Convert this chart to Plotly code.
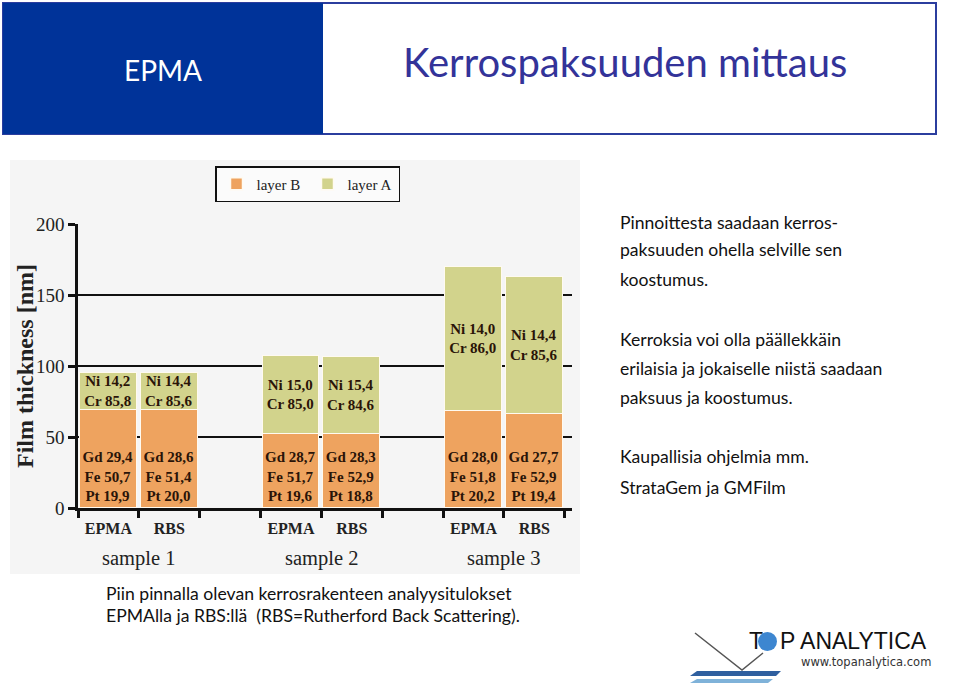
import plotly.graph_objects as go

# ---------------- data ----------------
samples = ["sample 1", "sample 2", "sample 3"]
methods = ["EPMA", "RBS"]
layer_b = [69, 69, 52, 52, 68, 66]      # nm
layer_a = [26, 26, 55, 54, 102, 97]     # nm
b_gd = ["29,4", "28,6", "28,7", "28,3", "28,0", "27,7"]
b_fe = ["50,7", "51,4", "51,7", "52,9", "51,8", "52,9"]
b_pt = ["19,9", "20,0", "19,6", "18,8", "20,2", "19,4"]
a_ni = ["14,2", "14,4", "15,0", "15,4", "14,0", "14,4"]
a_cr = ["85,8", "85,6", "85,0", "84,6", "86,0", "85,6"]
y_ticks = [0, 50, 100, 150, 200]

side_text = [
    ["Pinnoittesta saadaan kerros-", "paksuuden ohella selville sen", "koostumus."],
    ["Kerroksia voi olla päällekkäin", "erilaisia ja jokaiselle niistä saadaan", "paksuus ja koostumus."],
    ["Kaupallisia ohjelmia mm.", "StrataGem ja GMFilm"],
]
caption = ["Piin pinnalla olevan kerrosrakenteen analyysitulokset",
           "EPMAlla ja RBS:llä  (RBS=Rutherford Back Scattering)."]

# ---------------- helpers ----------------
W, H = 960, 686
def px(x):
    return x / W
def py(y):
    return 1 - y / H

# bar positions: group*3 + method index
xpos = [g * 3 + m for g in range(len(samples)) for m in range(len(methods))]
xlabels = [methods[m] for g in range(len(samples)) for m in range(len(methods))]

SERIF = "Liberation Serif, Times New Roman, serif"
SANS = "Lato, Open Sans, sans-serif"
ORANGE = "#eea35f"
GREEN = "#d2d38c"
TXT = "#2a1408"

fig = go.Figure()
fig.add_trace(go.Bar(
    name="layer B", x=xpos, y=layer_b, width=0.93,
    marker=dict(color=ORANGE, line=dict(color="#fffaf0", width=1.5)),
    text=[f"Gd {g}<br>Fe {f}<br>Pt {p}" for g, f, p in zip(b_gd, b_fe, b_pt)],
    textposition="inside", insidetextanchor="start", constraintext="none",
    textangle=0,
    textfont=dict(family=SERIF, size=15, color=TXT, weight="bold"),
    hoverinfo="skip",
))
fig.add_trace(go.Bar(
    name="layer A", x=xpos, y=layer_a, width=0.93,
    marker=dict(color=GREEN, line=dict(color="#fffaf0", width=1.5)),
    text=[f"Ni {n}<br>Cr {c}" for n, c in zip(a_ni, a_cr)],
    textposition="inside", insidetextanchor="middle", constraintext="none",
    textangle=0,
    textfont=dict(family=SERIF, size=15, color=TXT, weight="bold"),
    hoverinfo="skip",
))

shapes = []
annotations = []

# header
shapes.append(dict(type="rect", xref="paper", yref="paper", x0=px(3), x1=px(936), y0=py(134), y1=py(3),
                   line=dict(color="#2b3d9e", width=2), fillcolor="white", layer="below"))
shapes.append(dict(type="rect", xref="paper", yref="paper", x0=px(3), x1=px(323), y0=py(134), y1=py(3),
                   line=dict(width=0), fillcolor="#003399", layer="below"))
annotations.append(dict(text="EPMA", xref="paper", yref="paper", x=px(163), y=py(70), showarrow=False,
                        font=dict(family=SANS, size=28, color="white"), xanchor="center", yanchor="middle"))
annotations.append(dict(text="Kerrospaksuuden mittaus", xref="paper", yref="paper", x=px(625), y=py(62),
                        showarrow=False, font=dict(family=SANS, size=40, color="#333399"),
                        xanchor="center", yanchor="middle"))

# chart picture background
shapes.append(dict(type="rect", xref="paper", yref="paper", x0=px(10), x1=px(580), y0=py(574), y1=py(160),
                   line=dict(width=0), fillcolor="#f5f5f5", layer="below"))

# y axis title
annotations.append(dict(text="<b>Film thickness [nm]</b>", xref="paper", yref="paper", x=px(25), y=py(366),
                        textangle=-90, showarrow=False, xanchor="center", yanchor="middle",
                        font=dict(family=SERIF, size=24, color="#222")))

# sample labels
for g, s in enumerate(samples):
    annotations.append(dict(text=s, xref="x", yref="paper", x=g * 3 + 0.5, y=py(558), showarrow=False,
                            font=dict(family=SERIF, size=20.5, color="#222"), xanchor="center", yanchor="middle"))

# right-hand text
line_y = [[222, 250, 279], [339, 368, 397], [457, 487]]
for para, ys in zip(side_text, line_y):
    for t, yy in zip(para, ys):
        annotations.append(dict(text=t, xref="paper", yref="paper", x=px(618), y=py(yy), showarrow=False,
                                font=dict(family=SANS, size=17.6, color="#111"),
                                xanchor="left", yanchor="middle"))

# caption
for t, yy in zip(caption, [593, 615]):
    annotations.append(dict(text=t, xref="paper", yref="paper", x=px(104), y=py(yy), showarrow=False,
                            font=dict(family=SANS, size=17.6, color="#111"), xanchor="left", yanchor="middle"))

# logo
shapes.append(dict(type="path", xref="paper", yref="paper",
                   path=f"M {px(695)} {py(633)} L {px(742)} {py(670)} L {px(763)} {py(653)}",
                   line=dict(color="#555", width=1.5)))
shapes.append(dict(type="path", xref="paper", yref="paper",
                   path=f"M {px(690)} {py(676)} L {px(776)} {py(676)} L {px(781)} {py(671)} L {px(697)} {py(671)} Z",
                   line=dict(width=0), fillcolor="#2f5f9f"))
shapes.append(dict(type="path", xref="paper", yref="paper",
                   path=f"M {px(690)} {py(683)} L {px(768)} {py(683)} L {px(773)} {py(679)} L {px(697)} {py(679)} Z",
                   line=dict(width=0), fillcolor="#7fb2d9"))
shapes.append(dict(type="circle", xref="paper", yref="paper", x0=px(758), x1=px(777), y0=py(651), y1=py(632),
                   line=dict(width=0), fillcolor="#3d86d0"))
annotations.append(dict(text="T", xref="paper", yref="paper", x=px(747), y=py(641), showarrow=False,
                        font=dict(family="Liberation Sans, Arial", size=23, color="#111"),
                        xanchor="left", yanchor="middle"))
annotations.append(dict(text="P ANALYTICA", xref="paper", yref="paper", x=px(778), y=py(641), showarrow=False,
                        font=dict(family="Liberation Sans, Arial", size=23, color="#111"),
                        xanchor="left", yanchor="middle"))
annotations.append(dict(text="www.topanalytica.com", xref="paper", yref="paper", x=px(933), y=py(662),
                        showarrow=False, font=dict(family="DejaVu Sans", size=11.5, color="#333"),
                        xanchor="right", yanchor="middle"))

fig.update_layout(
    width=W, height=H, autosize=False,
    margin=dict(l=0, r=0, t=0, b=0, autoexpand=False),
    paper_bgcolor="white", plot_bgcolor="rgba(0,0,0,0)",
    barmode="stack", bargap=0,
    showlegend=True,
    legend=dict(orientation="h", x=px(215), y=py(166), xanchor="left", yanchor="top",
                bordercolor="#111", borderwidth=1.5, bgcolor="rgba(255,255,255,0.6)",
                font=dict(family=SERIF, size=15, color="#222"), traceorder="normal",
                itemwidth=30, entrywidth=46, entrywidthmode="pixels"),
    xaxis=dict(domain=[px(78), px(572)], range=[-0.5, 7.62], automargin=False,
               tickmode="array", tickvals=xpos, ticktext=xlabels, ticks="",
               ticklabelstandoff=4,
               tickfont=dict(family=SERIF, size=16, color="#222", weight="bold"),
               showline=True, linecolor="#111", linewidth=2.5, showgrid=False, zeroline=False,
               minor=dict(tickmode="array", tickvals=[v - 0.5 for v in range(9)], ticks="outside",
                          ticklen=7, tickwidth=2.5, tickcolor="#111", showgrid=False)),
    yaxis=dict(domain=[py(508), py(224)], range=[0, 200], automargin=False,
               tickmode="array", tickvals=y_ticks, ticks="outside", ticklen=7, tickwidth=2.5,
               tickcolor="#111",
               tickfont=dict(family=SERIF, size=19, color="#222"),
               showline=True, linecolor="#111", linewidth=2.5,
               showgrid=True, gridcolor="#111", gridwidth=1.5, zeroline=False),
    shapes=shapes, annotations=annotations,
)

fig.write_html("out.html")
